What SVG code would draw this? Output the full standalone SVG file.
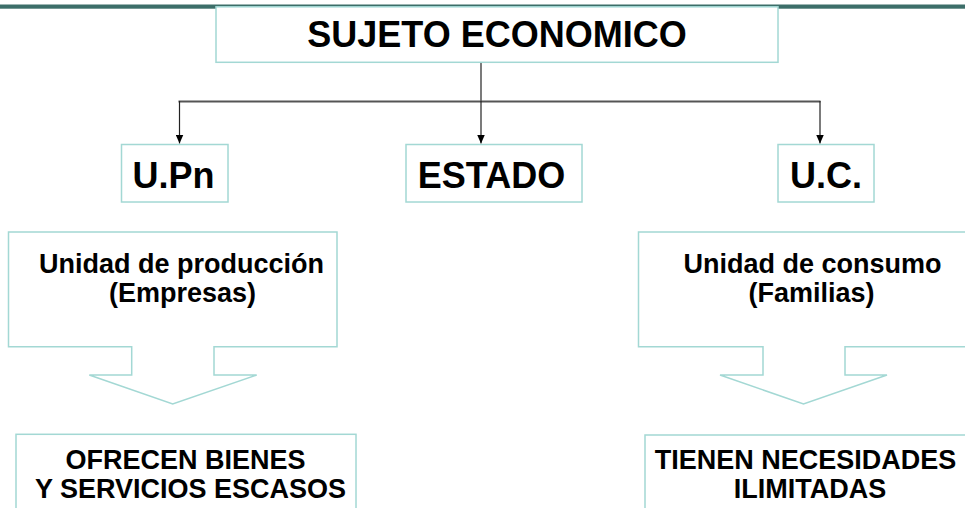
<svg xmlns="http://www.w3.org/2000/svg" width="965" height="508" viewBox="0 0 965 508">
<defs>
<style>
.box{fill:#ffffff;stroke:#a3d8d4;stroke-width:1.5}
.t{font-family:"Liberation Sans",Arial,sans-serif;font-weight:bold;fill:#000;text-anchor:middle}
.big{font-size:36px}
.mid{font-size:27px}
.ln{fill:none;stroke:#222;stroke-width:1.2}
</style>
<marker id="ah" viewBox="0 0 9 8" refX="9" refY="4" markerWidth="9" markerHeight="8" markerUnits="userSpaceOnUse" orient="auto">
<path d="M0,0 L9,4 L0,8 Z" fill="#000"/>
</marker>
</defs>
<rect x="0" y="4.5" width="965" height="4.2" fill="#3c6e69"/>
<g id="connectors">
<line class="ln" x1="481" y1="62" x2="481" y2="101"/>
<line x1="178.5" y1="101.5" x2="820.5" y2="101.5" stroke="#555" stroke-width="2.2"/>
<line class="ln" x1="179.5" y1="101" x2="179.5" y2="143.5" marker-end="url(#ah)"/>
<line class="ln" x1="481" y1="101" x2="481" y2="143.5" marker-end="url(#ah)"/>
<line class="ln" x1="820" y1="101" x2="820" y2="143.5" marker-end="url(#ah)"/>
</g>
<g id="sujeto">
<rect class="box" x="216" y="6.8" width="562" height="55.5"/>
<text class="t big" x="497" y="47">SUJETO ECONOMICO</text>
</g>
<g id="upn">
<rect class="box" x="121.5" y="144.5" width="106.5" height="57.5"/>
<text class="t big" x="173.5" y="188">U.Pn</text>
</g>
<g id="estado">
<rect class="box" x="406" y="144.5" width="176" height="57.5"/>
<text class="t big" x="491.5" y="188">ESTADO</text>
</g>
<g id="uc">
<rect class="box" x="778" y="144.5" width="96" height="57.5"/>
<text class="t big" x="826" y="188">U.C.</text>
</g>
<g id="produccion">
<path class="box" d="M8.5,232 H337 V346.7 H214 V375 H256.7 L172.7,404 L89.3,375 H131.7 V346.7 H8.5 Z"/>
<text class="t mid" x="181.5" y="273">Unidad de producción</text>
<text class="t mid" x="182.5" y="302">(Empresas)</text>
</g>
<g id="consumo">
<path class="box" d="M638.5,232 H975 V346.7 H845 V375 H887 L803.5,404 L720,375 H763 V346.7 H638.5 Z"/>
<text class="t mid" x="812.5" y="273">Unidad de consumo</text>
<text class="t mid" x="811.5" y="302">(Familias)</text>
</g>
<g id="ofrecen">
<rect class="box" x="16" y="434.3" width="340" height="90"/>
<text class="t mid" x="185.5" y="469">OFRECEN BIENES</text>
<text class="t mid" x="190.5" y="498">Y SERVICIOS ESCASOS</text>
</g>
<g id="tienen">
<rect class="box" x="645" y="435" width="340" height="90"/>
<text class="t mid" x="805.5" y="469">TIENEN NECESIDADES</text>
<text class="t mid" x="810" y="498">ILIMITADAS</text>
</g>
</svg>
